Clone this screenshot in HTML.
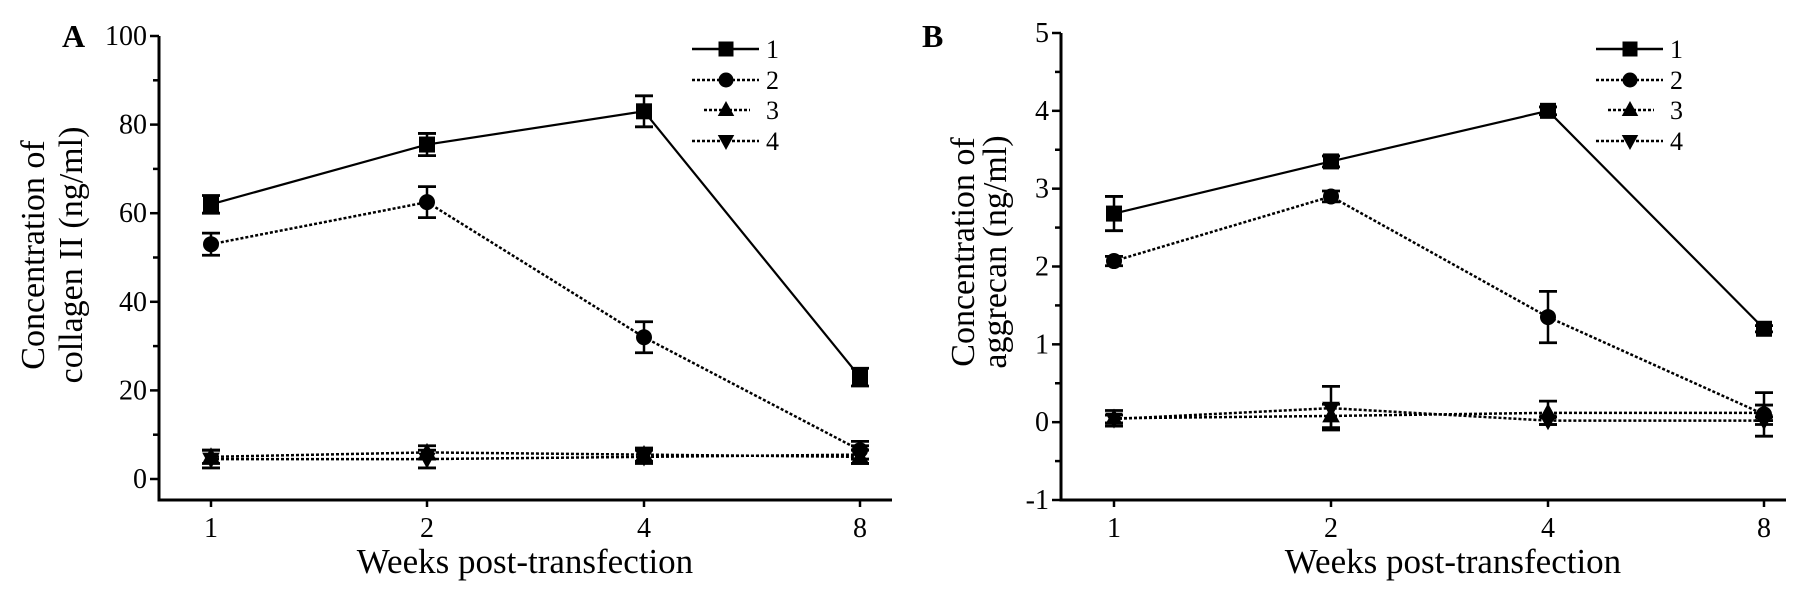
<!DOCTYPE html>
<html><head><meta charset="utf-8">
<style>
html,body{margin:0;padding:0;background:#fff;}
svg{display:block;font-family:"Liberation Serif",serif;}
</style></head>
<body>
<svg id="c" width="1800" height="600" viewBox="0 0 1800 600"></svg>
<script>
const categories = ["1","2","4","8"];
const seriesNames = ["1","2","3","4"];
const aTicks = [0,20,40,60,80,100];
const aS1 = [62,75.5,83,23];
const aS2 = [53,62.5,32,6.5];
const aS3 = [5,6,5.5,5];
const aS4 = [4.5,4.5,5,5.5];
const aE1 = [2,2.5,3.5,2];
const aE2 = [2.5,3.5,3.5,2];
const aE3 = [1.5,1.5,1.5,1.5];
const aE4 = [2,2,1.5,2];
const bTicks = [-1,0,1,2,3,4,5];
const bS1 = [2.68,3.35,4.0,1.2];
const bS2 = [2.07,2.9,1.35,0.1];
const bS3 = [0.05,0.08,0.12,0.12];
const bS4 = [0.04,0.18,0.02,0.02];
const bE1 = [0.22,0.07,0.05,0.04];
const bE2 = [0.06,0.07,0.33,0.28];
const bE3 = [0.1,0.15,0.15,0.1];
const bE4 = [0.05,0.28,0.05,0.05];

const NS="http://www.w3.org/2000/svg";
const svg=document.getElementById('c');
function mk(tag,attrs,parent){const e=document.createElementNS(NS,tag);for(const k in attrs)e.setAttribute(k,attrs[k]);(parent||svg).appendChild(e);return e;}

const dashes=[null,"3,2","3,2","3,2"];
function marker(g,type,x,y,s){
  let e;
  if(type===0) e=mk('rect',{x:x-s,y:y-s,width:2*s,height:2*s,fill:'#000'},g);
  else if(type===1) e=mk('circle',{cx:x,cy:y,r:s,fill:'#000'},g);
  else if(type===2) e=mk('polygon',{points:`${x},${y-s*1.2} ${x-s*1.1},${y+s*0.8} ${x+s*1.1},${y+s*0.8}`,fill:'#000'},g);
  else e=mk('polygon',{points:`${x},${y+s*1.2} ${x-s*1.1},${y-s*0.8} ${x+s*1.1},${y-s*0.8}`,fill:'#000'},g);
  return e;
}

function panel(cfg){
  const {name,letter,letterX,axX,xEnd,yTop,yBot,xPos,yMin,yMax,yMinPx,yMaxPx,ticks,minor,series,errs,legX,ytitle,ytX,ytY,ytDy,xtitleX}=cfg;
  const g=mk('g',{});
  
  
  const ys=v=>yMinPx+(v-yMin)*(yMaxPx-yMinPx)/(yMax-yMin);
  const xs=i=>xPos[i];
  const L=mk('text',{x:letterX,y:47,'font-size':32,'font-weight':'bold'},g);L.textContent=letter;
  
  const ax=mk('g',{},g);
  
  mk('line',{x1:axX,y1:yTop,x2:axX,y2:yBot+1.5,stroke:'#000','stroke-width':3},ax);
  mk('line',{x1:axX-1.5,y1:yBot,x2:xEnd,y2:yBot,stroke:'#000','stroke-width':3},ax);
  ticks.forEach(t=>{
    const y=ys(t);
    mk('line',{x1:axX-9,y1:y,x2:axX,y2:y,stroke:'#000','stroke-width':2.5},ax);
    const tx=mk('text',{x:axX-12,y:y+9,'font-size':28,'text-anchor':'end'},ax);tx.textContent=t;
    
  });
  minor.forEach(t=>{const y=ys(t);mk('line',{x1:axX-6,y1:y,x2:axX,y2:y,stroke:'#000','stroke-width':2.5},ax);});
  categories.forEach((c,i)=>{
    mk('line',{x1:xs(i),y1:yBot,x2:xs(i),y2:yBot+7,stroke:'#000','stroke-width':2.5},ax);
    const tx=mk('text',{x:xs(i),y:yBot+37,'font-size':28,'text-anchor':'middle'},ax);tx.textContent=c;
    
  });
  const xt=mk('text',{x:xtitleX,y:573,'font-size':35,'text-anchor':'middle'},g);xt.textContent='Weeks post-transfection';
  
  const yt=mk('text',{transform:`translate(${ytX},${ytY}) rotate(-90)`,'font-size':34,'text-anchor':'middle'},g);
  
  const t1=mk('tspan',{x:0,y:0},yt);t1.textContent=ytitle[0];
  const t2=mk('tspan',{x:0,dy:ytDy},yt);t2.textContent=ytitle[1];
  for(let s=series.length-1;s>=0;s--){
    const sg=mk('g',{},g);
    
    
    const pts=series[s].map((v,i)=>xs(i)+','+ys(v)).join(' ');
    const pl=mk('polyline',{points:pts,fill:'none',stroke:'#000','stroke-width':s===0?2.2:2.5},sg);
    if(dashes[s])pl.setAttribute('stroke-dasharray',dashes[s]);
    series[s].forEach((v,i)=>{
      const e=errs[s][i],x=xs(i);
      mk('line',{x1:x,y1:ys(v+e),x2:x,y2:ys(v-e),stroke:'#000','stroke-width':2.5},sg);
      mk('line',{x1:x-9,y1:ys(v+e),x2:x+9,y2:ys(v+e),stroke:'#000','stroke-width':2.8},sg);
      mk('line',{x1:x-9,y1:ys(v-e),x2:x+9,y2:ys(v-e),stroke:'#000','stroke-width':2.8},sg);
      const m=marker(sg,s,x,ys(v),8);
      
      
    });
  }
  const lg=mk('g',{},g);
  
  const ly=[49,80,110,141];
  seriesNames.forEach((n,k)=>{
    const eg=mk('g',{},lg);
    
    const x1=k===2?legX+12:legX, x2=k===2?legX+58:legX+67;
    const l=mk('line',{x1:x1,y1:ly[k],x2:x2,y2:ly[k],stroke:'#000','stroke-width':2.5},eg);
    if(dashes[k])l.setAttribute('stroke-dasharray',dashes[k]);
    marker(eg,k,legX+34,ly[k],7.5);
    const t=mk('text',{x:legX+74,y:ly[k]+9,'font-size':26},eg);t.textContent=n;
  });
}

panel({name:'panel-a-collagen',letter:'A',letterX:62,axX:159,xEnd:892,yTop:36,yBot:500,xPos:[211,427,644,860],
  yMin:0,yMax:100,yMinPx:479,yMaxPx:36,ticks:aTicks,minor:[10,30,50,70,90],
  series:[aS1,aS2,aS3,aS4],errs:[aE1,aE2,aE3,aE4],legX:692,ytitle:['Concentration of','collagen II (ng/ml)'],ytX:44,ytY:255,ytDy:38,xtitleX:525});
panel({name:'panel-b-aggrecan',letter:'B',letterX:922,axX:1061,xEnd:1786,yTop:33,yBot:500,xPos:[1114,1331,1548,1764],
  yMin:-1,yMax:5,yMinPx:500,yMaxPx:33,ticks:bTicks,minor:[-0.5,0.5,1.5,2.5,3.5,4.5],
  series:[bS1,bS2,bS3,bS4],errs:[bE1,bE2,bE3,bE4],legX:1596,ytitle:['Concentration of','aggrecan (ng/ml)'],ytX:974,ytY:252,ytDy:32,xtitleX:1453});
</script>
</body></html>
